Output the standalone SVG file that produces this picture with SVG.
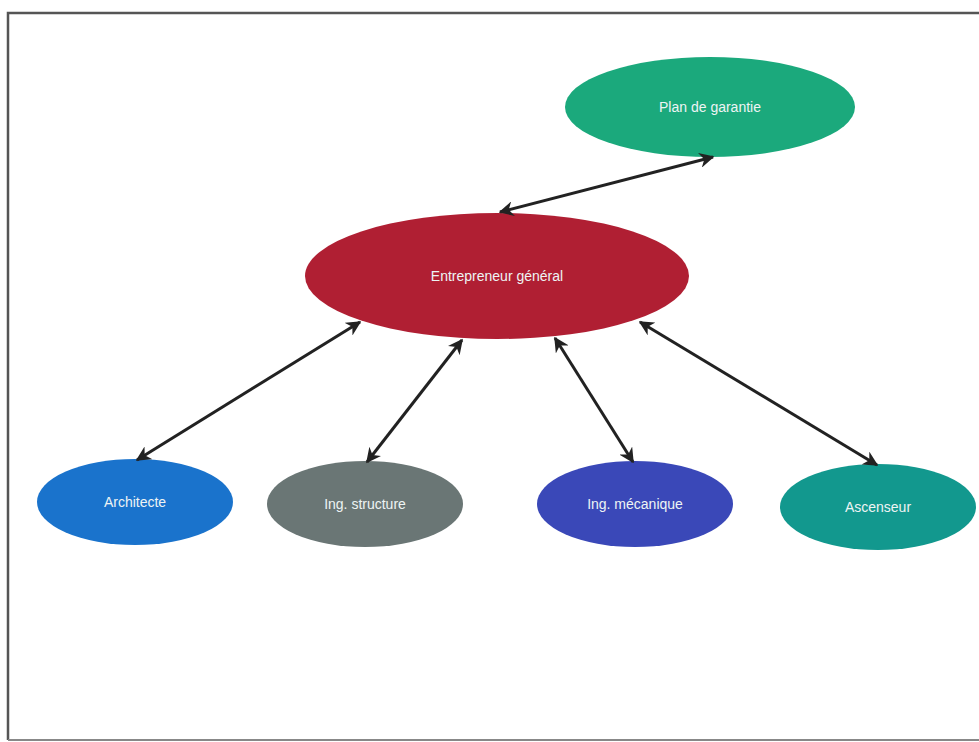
<svg xmlns="http://www.w3.org/2000/svg" width="979" height="742" viewBox="0 0 979 742">
<style>
.lbl{font-family:"Liberation Sans",Arial,sans-serif;font-size:14px;fill:#eef4f4;text-anchor:middle;dominant-baseline:central}
.con line{stroke:#222;stroke-width:3;marker-start:url(#ah);marker-end:url(#ah)}
</style>
<defs>
<marker id="ah" viewBox="0 0 10 10" refX="9" refY="5" markerWidth="5" markerHeight="5" orient="auto-start-reverse" markerUnits="strokeWidth">
<path d="M0,0 L10,5 L0,10 L3,5 z" fill="#222"/>
</marker>
</defs>
<rect width="979" height="742" fill="#fff"/>
<path d="M8,740 L8,13 L979,13" fill="none" stroke="#555" stroke-width="2.5"/>
<path d="M8,740 L979,740" fill="none" stroke="#888" stroke-width="2"/>
<g id="plan"><ellipse cx="710" cy="107" rx="145" ry="50" fill="#1ba97c"/><text class="lbl" x="710" y="107">Plan de garantie</text></g>
<g id="entrepreneur"><ellipse cx="497" cy="276" rx="192" ry="63" fill="#b01f33"/><text class="lbl" x="497" y="276">Entrepreneur général</text></g>
<g id="architecte"><ellipse cx="135" cy="502" rx="98" ry="43" fill="#1a73cc"/><text class="lbl" x="135" y="502">Architecte</text></g>
<g id="structure"><ellipse cx="365" cy="504" rx="98" ry="43" fill="#6a7675"/><text class="lbl" x="365" y="504">Ing. structure</text></g>
<g id="mecanique"><ellipse cx="635" cy="504" rx="98" ry="43" fill="#3a48b8"/><text class="lbl" x="635" y="504">Ing. mécanique</text></g>
<g id="ascenseur"><ellipse cx="878" cy="507" rx="98" ry="43" fill="#12988e"/><text class="lbl" x="878" y="507">Ascenseur</text></g>
<g class="con" id="connectors">
<line x1="500" y1="212" x2="713" y2="157"/>
<line x1="360" y1="322" x2="137" y2="460"/>
<line x1="462" y1="340" x2="367" y2="462"/>
<line x1="555" y1="338" x2="633" y2="462"/>
<line x1="640" y1="322" x2="877" y2="465"/>
</g>
</svg>
